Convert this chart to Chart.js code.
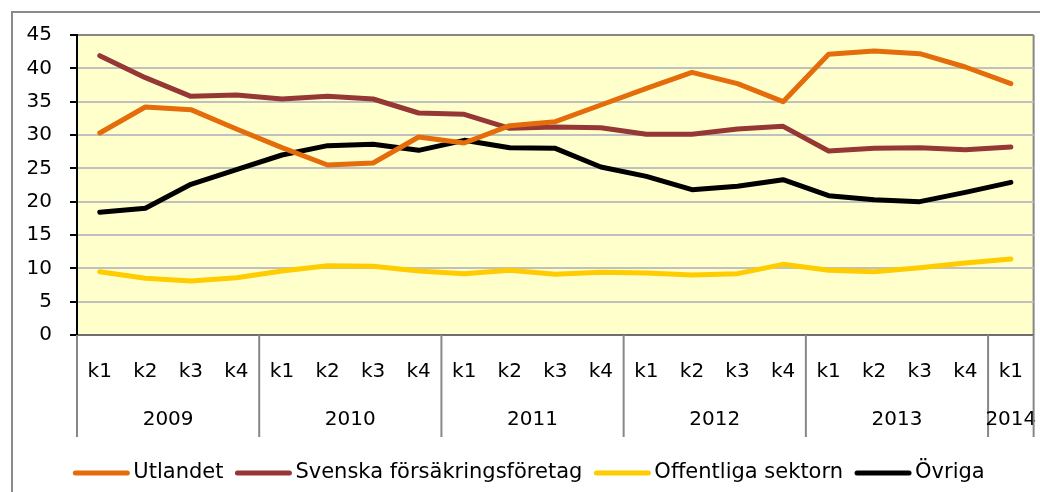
<!DOCTYPE html>
<html>
<head>
  <meta charset="utf-8">
  <title>Ägare av svenska obligationer</title>
  <script src="https://cdn.jsdelivr.net/npm/chart.js@4.4.0/dist/chart.umd.min.js"></script>
  <style>
    body { margin: 0; background: #fff; }
    #chart-box { width: 1040px; height: 492px; }
  </style>
</head>
<body>
  <div id="chart-box"><canvas id="owners-chart" width="1040" height="492"></canvas></div>
  <script>
    // kvartal, år (antal kvartal per år) och serierna
    var quarters = ['k1', 'k2', 'k3', 'k4', 'k1', 'k2', 'k3', 'k4', 'k1', 'k2', 'k3', 'k4',
                    'k1', 'k2', 'k3', 'k4', 'k1', 'k2', 'k3', 'k4', 'k1'];
    var years = ['2009', '2010', '2011', '2012', '2013', '2014'];
    var quartersPerYear = [4, 4, 4, 4, 4, 1];

    var utlandet = [30.3, 34.2, 33.8, 30.9, 28.1, 25.5, 25.8, 29.7, 28.8, 31.4,
                    32.0, 34.5, 37.0, 39.4, 37.7, 35.0, 42.1, 42.6, 42.2, 40.2, 37.7];
    var svenskaForsakring = [41.9, 38.6, 35.8, 36.0, 35.4, 35.8, 35.4, 33.3, 33.1, 31.0,
                             31.2, 31.1, 30.1, 30.1, 30.9, 31.3, 27.6, 28.0, 28.1, 27.8, 28.2];
    var offentliga = [9.5, 8.5, 8.1, 8.6, 9.6, 10.4, 10.3, 9.6, 9.2, 9.7,
                      9.1, 9.4, 9.3, 9.0, 9.2, 10.6, 9.7, 9.5, 10.1, 10.8, 11.4];
    var ovriga = [18.4, 19.0, 22.6, 24.8, 27.0, 28.4, 28.6, 27.7, 29.2, 28.1,
                  28.0, 25.2, 23.8, 21.8, 22.3, 23.3, 20.9, 20.3, 20.0, 21.4, 22.9];

    var yTicks = [0, 5, 10, 15, 20, 25, 30, 35, 40, 45];

    var font = '"DejaVu Sans", sans-serif';

    function series(label, data, color) {
      return {
        label: label,
        data: data,
        borderColor: color,
        backgroundColor: color,
        borderWidth: 5,
        borderCapStyle: 'round',
        borderJoinStyle: 'round',
        pointRadius: 0,
        tension: 0
      };
    }

    // bakgrund + ram runt hela diagrammet
    var backgroundPlugin = {
      id: 'backgroundPlugin',
      beforeDraw: function (chart) {
        var ctx = chart.ctx, a = chart.chartArea;
        ctx.save();
        ctx.strokeStyle = '#8a8a8a';
        ctx.lineWidth = 2;
        ctx.strokeRect(12, 12, 1200, 700);
        ctx.fillStyle = '#ffffcc';
        ctx.fillRect(a.left, a.top, a.right - a.left, a.bottom - a.top);
        ctx.strokeStyle = '#878787';
        ctx.beginPath();
        ctx.moveTo(a.right, a.top);
        ctx.lineTo(a.right, a.bottom);
        ctx.stroke();
        ctx.restore();
      }
    };

    // årsgrupper under x-axeln och egen legend
    var groupsPlugin = {
      id: 'groupsPlugin',
      afterDraw: function (chart) {
        var ctx = chart.ctx, a = chart.chartArea, xs = chart.scales.x;
        var half = (xs.getPixelForValue(1) - xs.getPixelForValue(0)) / 2;
        var bottom = xs.bottom;
        ctx.save();
        ctx.strokeStyle = '#878787';
        ctx.lineWidth = 2;
        ctx.fillStyle = '#000';
        ctx.font = '20px ' + font;
        ctx.textAlign = 'center';
        ctx.textBaseline = 'middle';
        var start = 0;
        for (var i = 0; i <= years.length; i++) {
          var x = i < years.length ? xs.getPixelForValue(start) - half
                                   : xs.getPixelForValue(start - 1) + half;
          ctx.beginPath();
          ctx.moveTo(x, a.bottom);
          ctx.lineTo(x, bottom);
          ctx.stroke();
          if (i < years.length) {
            var end = start + quartersPerYear[i] - 1;
            var cx = (xs.getPixelForValue(start) + xs.getPixelForValue(end)) / 2;
            ctx.fillText(years[i], cx, a.bottom + 85);
            start = end + 1;
          }
        }

        // legend
        ctx.font = '21px ' + font;
        var items = chart.data.datasets;
        var sample = 56, gap = 4, itemGap = 12;
        var total = 0;
        items.forEach(function (d, k) {
          total += sample + gap + ctx.measureText(d.label).width + (k < items.length - 1 ? itemGap : 0);
        });
        var lx = chart.width / 2 + 9 - total / 2, ly = 473;
        ctx.textAlign = 'left';
        ctx.lineCap = 'round';
        items.forEach(function (d) {
          ctx.strokeStyle = d.borderColor;
          ctx.lineWidth = 5;
          ctx.beginPath();
          ctx.moveTo(lx + 2, ly);
          ctx.lineTo(lx + sample - 2, ly);
          ctx.stroke();
          ctx.fillStyle = '#000';
          ctx.fillText(d.label, lx + sample + gap, ly);
          lx += sample + gap + ctx.measureText(d.label).width + itemGap;
        });
        ctx.restore();
      }
    };

    var ctx = document.getElementById('owners-chart').getContext('2d');
    var chart = new Chart(ctx, {
      type: 'line',
      data: {
        labels: quarters,
        datasets: [
          series('Utlandet', utlandet, '#e46c0a'),
          series('Svenska försäkringsföretag', svenskaForsakring, '#953735'),
          series('Offentliga sektorn', offentliga, '#ffcc00'),
          series('Övriga', ovriga, '#000000')
        ]
      },
      options: {
        responsive: false,
        animation: false,
        layout: { padding: { left: 12, top: 35, right: 0, bottom: 55 } },
        plugins: {
          legend: { display: false },
          tooltip: { enabled: false }
        },
        scales: {
          x: {
            offset: true,
            grid: { display: false },
            border: { color: '#6e6e6e', width: 2 },
            ticks: {
              color: '#000',
              font: { family: font, size: 20 },
              padding: 17,
              maxRotation: 0,
              autoSkip: false
            },
            afterFit: function (scale) { scale.height = 102; }
          },
          y: {
            min: 0,
            max: 45,
            afterBuildTicks: function (scale) {
              scale.ticks = yTicks.map(function (v) { return { value: v }; });
            },
            grid: {
              color: function (c) { return c.tick && c.tick.value === 45 ? '#878787' : '#c0c0c0'; },
              lineWidth: 2,
              tickColor: '#000',
              tickLength: 7,
              tickWidth: 2
            },
            border: { color: '#000', width: 2 },
            ticks: {
              color: '#000',
              font: { family: font, size: 20 },
              padding: 18
            },
            afterFit: function (scale) { scale.width = 65; }
          }
        }
      },
      plugins: [backgroundPlugin, groupsPlugin]
    });
  </script>
</body>
</html>
